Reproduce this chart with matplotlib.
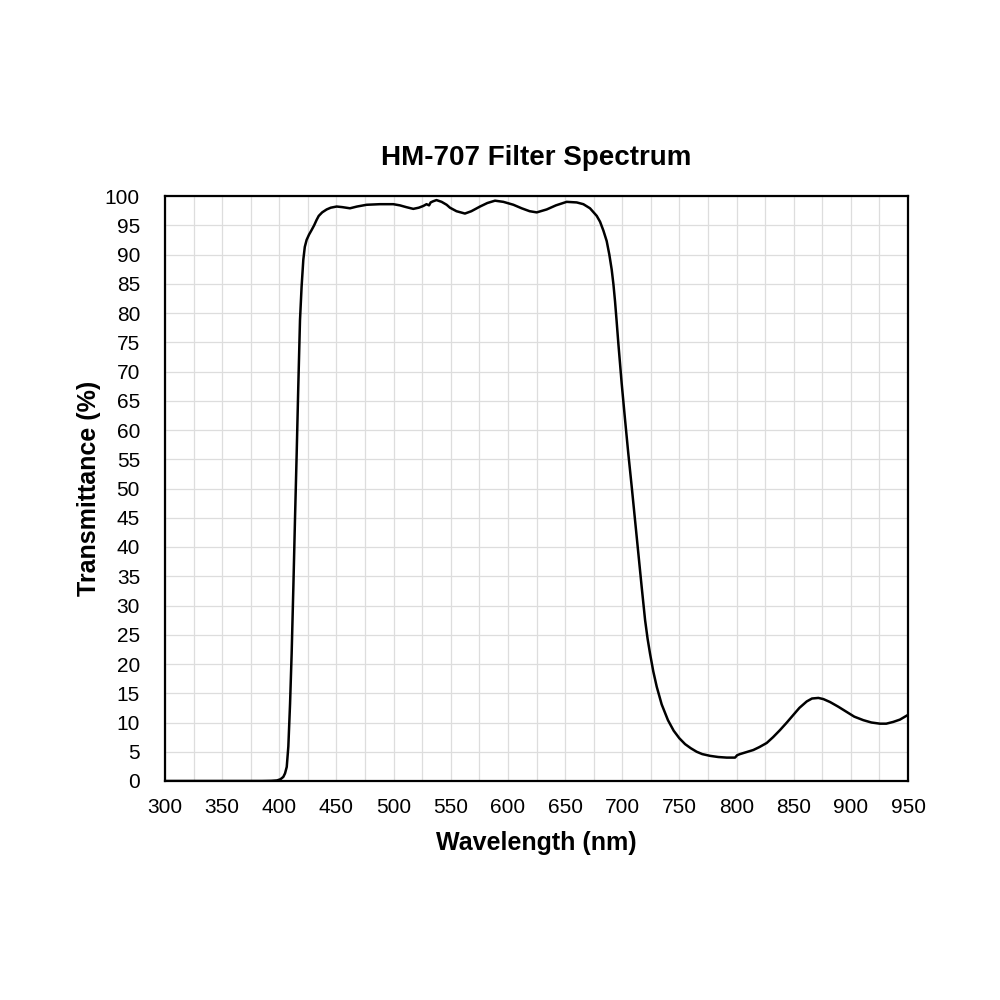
import numpy as np
import matplotlib.pyplot as plt
from matplotlib.ticker import MultipleLocator

plt.rcParams['font.family'] = ['Liberation Sans', 'DejaVu Sans']

# Transmittance curve
wavelength = [300, 350, 385, 393, 398, 401, 403.5, 405, 406.5, 407.9, 409.4, 410.8,
              412.3, 413.7, 415.2, 416.6, 418.1, 419.5, 421, 422.3, 423.9, 426,
              428.3, 430.5, 432.6, 434.5, 437.5, 441.4, 445, 450.2, 455, 461.8, 468,
              476.4, 488, 499.7, 505.5, 511, 517.2, 522, 526, 528.8, 531, 532.4,
              534.6, 537.5, 542, 546.4, 549.3, 555, 562.4, 568, 575.6, 582, 588.7,
              596, 604.8, 612, 619, 625.2, 633.9, 642, 651.4, 660.2, 666, 671.8,
              677.7, 680.6, 683.5, 686.4, 688.7, 690.8, 692.3, 693.7, 695.1, 696.6,
              699.5, 702.4, 705.3, 708.3, 711.2, 714.1, 717, 720, 722.2, 724.3,
              727.2, 730.2, 734.5, 740, 745, 750, 755, 760, 765.1, 770, 776.8, 784,
              791.4, 798.7, 800.5, 803, 808, 814.7, 820, 826.4, 832, 838, 844,
              849.7, 855, 861.4, 866, 871.6, 876, 881.8, 889, 896.4, 903, 910.9,
              918, 925.5, 931, 937.1, 943, 950]
transmittance = [0, 0, 0, 0.03, 0.1, 0.3, 0.7, 1.3, 2.4, 5.9, 13.2, 21.8,
                 33.2, 44.6, 56, 67.4, 78.8, 84.5, 89.1, 91.3, 92.5, 93.4,
                 94.2, 95.0, 95.9, 96.6, 97.2, 97.7, 98.0, 98.2, 98.1, 97.9, 98.2,
                 98.5, 98.6, 98.6, 98.4, 98.1, 97.8, 98.0, 98.3, 98.6, 98.4, 98.9,
                 99.1, 99.3, 99.0, 98.5, 98.0, 97.4, 97.0, 97.4, 98.2, 98.8, 99.2,
                 99.0, 98.5, 97.9, 97.4, 97.2, 97.7, 98.4, 99.0, 98.9, 98.6, 97.9,
                 96.6, 95.6, 94.1, 92.3, 90.0, 87.4, 84.9, 82.0, 78.6, 74.8,
                 68.0, 61.9, 56, 50.3, 44.6, 38.9, 33.2, 27.5, 24.3, 21.8,
                 18.7, 16.1, 13.1, 10.4, 8.6, 7.3, 6.3, 5.6, 5.0, 4.6, 4.3, 4.1,
                 4.0, 4.0, 4.4, 4.6, 4.9, 5.3, 5.8, 6.5, 7.5, 8.7, 10.0,
                 11.3, 12.5, 13.6, 14.1, 14.2, 14.0, 13.5, 12.7, 11.8, 11.0, 10.4,
                 10.0, 9.8, 9.8, 10.1, 10.5, 11.3]

fig = plt.figure(figsize=(10, 10), dpi=100)
ax = fig.add_axes([0.165, 0.219, 0.743, 0.585])

ax.plot(wavelength, transmittance, color='black', lw=1.8,
        solid_joinstyle='round', solid_capstyle='round')

ax.set_xlim(300, 950)
ax.set_ylim(0, 100)
ax.xaxis.set_major_locator(MultipleLocator(50))
ax.xaxis.set_minor_locator(MultipleLocator(25))
ax.yaxis.set_major_locator(MultipleLocator(5))
ax.grid(True, which='both', color='#dddddd', lw=0.9)
ax.set_axisbelow(True)
ax.tick_params(which='both', length=0, labelsize=15)
ax.tick_params(axis='x', pad=12)
ax.tick_params(axis='y', pad=18)
for s in ax.spines.values():
    s.set_linewidth(1.6)

ax.set_title('HM-707 Filter Spectrum', fontsize=20, fontweight='bold', pad=22)
ax.set_xlabel('Wavelength (nm)', fontsize=18, fontweight='bold', labelpad=10)
ax.set_ylabel('Transmittance (%)', fontsize=18, fontweight='bold', labelpad=3)

fig.savefig('out.png', dpi=100, facecolor='white')
